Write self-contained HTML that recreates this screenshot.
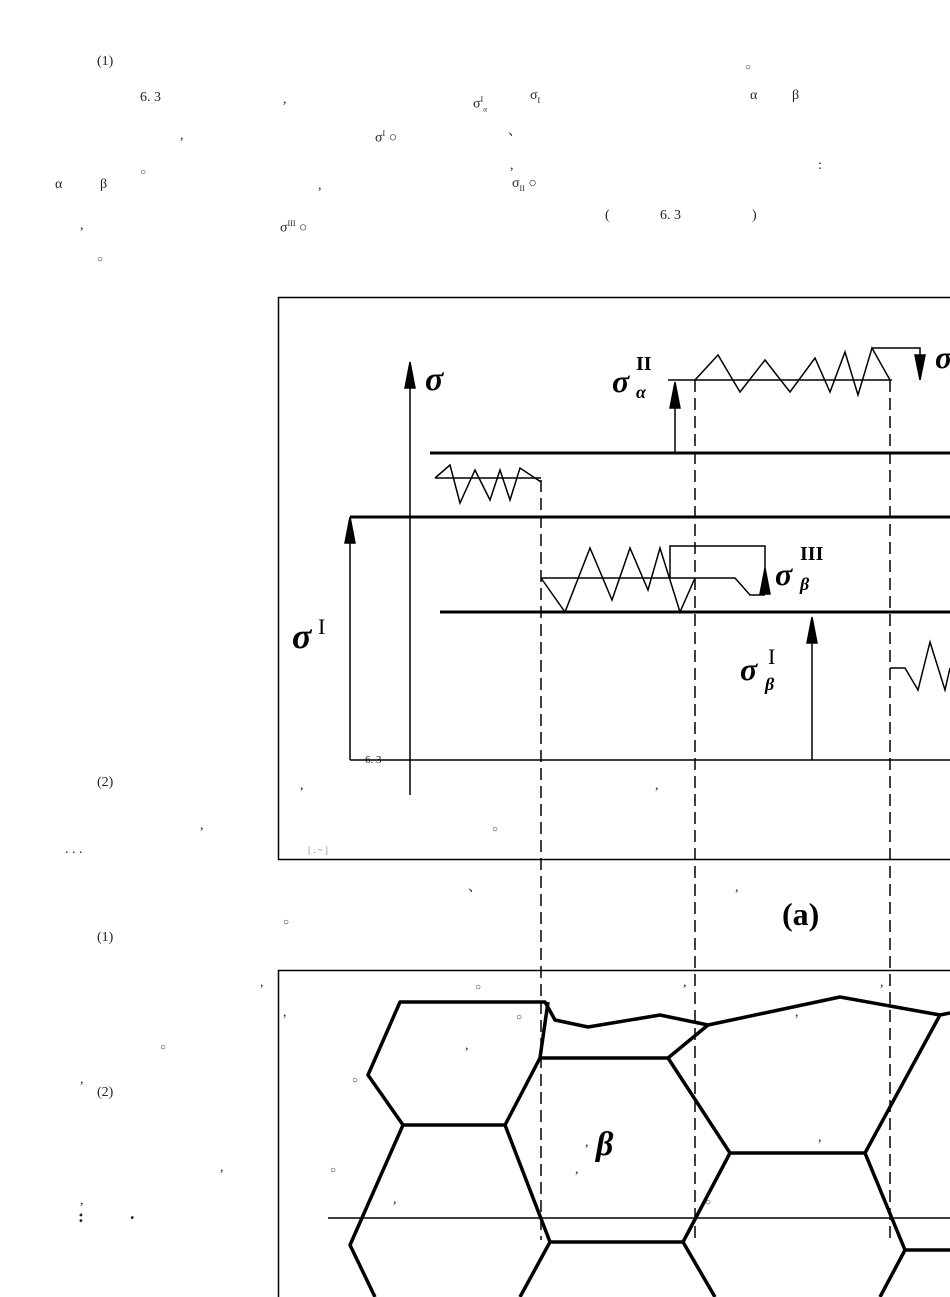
<!DOCTYPE html>
<html><head><meta charset="utf-8"><style>
html,body{margin:0;padding:0;background:#fff;width:950px;height:1297px;overflow:hidden;}
body{position:relative;font-family:"Liberation Serif","Noto Serif CJK SC",serif;}
.t{position:absolute;font-size:14px;line-height:16px;color:#222;white-space:nowrap;}
svg{position:absolute;left:0;top:0;display:block;}
</style></head><body>
<div class="t" style="left:97px;top:54px">(1)</div>
<div class="t" style="left:745px;top:60px;font-size:10px">○</div>
<div class="t" style="left:140px;top:90px">6. 3</div>
<div class="t" style="left:283px;top:92px">,</div>
<div class="t" style="left:473px;top:92px">σ<sup style="font-size:8px">I</sup><sub style="font-size:7px">α</sub></div>
<div class="t" style="left:530px;top:88px">σ<sub style="font-size:8px">I</sub></div>
<div class="t" style="left:750px;top:88px">α</div>
<div class="t" style="left:792px;top:88px">β</div>
<div class="t" style="left:180px;top:128px">,</div>
<div class="t" style="left:375px;top:126px">σ<sup style="font-size:8px">I</sup> ○</div>
<div class="t" style="left:508px;top:124px">、</div>
<div class="t" style="left:510px;top:158px">,</div>
<div class="t" style="left:818px;top:158px">:</div>
<div class="t" style="left:140px;top:165px;font-size:10px">○</div>
<div class="t" style="left:55px;top:177px">α</div>
<div class="t" style="left:100px;top:177px">β</div>
<div class="t" style="left:318px;top:178px">,</div>
<div class="t" style="left:512px;top:176px">σ<sub style="font-size:8px">II</sub> ○</div>
<div class="t" style="left:605px;top:208px">(</div>
<div class="t" style="left:660px;top:208px">6. 3</div>
<div class="t" style="left:752px;top:208px">)</div>
<div class="t" style="left:80px;top:218px">,</div>
<div class="t" style="left:280px;top:216px">σ<sup style="font-size:8px">III</sup> ○</div>
<div class="t" style="left:97px;top:252px;font-size:10px">○</div>
<div class="t" style="left:97px;top:775px">(2)</div>
<div class="t" style="left:365px;top:752px;font-size:11px">6. 3</div>
<div class="t" style="left:300px;top:778px">,</div>
<div class="t" style="left:655px;top:778px">,</div>
<div class="t" style="left:200px;top:818px">,</div>
<div class="t" style="left:492px;top:822px;font-size:10px">○</div>
<div class="t" style="left:65px;top:842px">. . .</div>
<div class="t" style="left:308px;top:842px;font-size:9px;color:#888">[ . ~ ]</div>
<div class="t" style="left:468px;top:880px">、</div>
<div class="t" style="left:735px;top:880px">,</div>
<div class="t" style="left:283px;top:915px;font-size:10px">○</div>
<div class="t" style="left:97px;top:930px">(1)</div>
<div class="t" style="left:260px;top:975px">,</div>
<div class="t" style="left:475px;top:980px;font-size:10px">○</div>
<div class="t" style="left:683px;top:975px">,</div>
<div class="t" style="left:880px;top:975px">,</div>
<div class="t" style="left:283px;top:1005px">,</div>
<div class="t" style="left:516px;top:1010px;font-size:10px">○</div>
<div class="t" style="left:795px;top:1005px">,</div>
<div class="t" style="left:160px;top:1040px;font-size:10px">○</div>
<div class="t" style="left:465px;top:1038px">,</div>
<div class="t" style="left:352px;top:1073px;font-size:10px">○</div>
<div class="t" style="left:80px;top:1072px">,</div>
<div class="t" style="left:97px;top:1085px">(2)</div>
<div class="t" style="left:585px;top:1135px">,</div>
<div class="t" style="left:818px;top:1130px">,</div>
<div class="t" style="left:220px;top:1160px">,</div>
<div class="t" style="left:330px;top:1163px;font-size:10px">○</div>
<div class="t" style="left:575px;top:1162px">,</div>
<div class="t" style="left:80px;top:1193px">,</div>
<div class="t" style="left:393px;top:1192px">,</div>
<div class="t" style="left:705px;top:1195px;font-size:10px">○</div>
<div class="t" style="left:78px;top:1208px;font-size:18px;font-weight:bold">:</div>
<div class="t" style="left:130px;top:1205px;font-size:18px;font-weight:bold">.</div>
<svg width="950" height="1297" viewBox="0 0 950 1297">
<g fill="none" stroke="#000">
<path d="M950,297.5 H278.5 V859.5 H950" stroke-width="1.5"/>
<path d="M950,970.5 H278.5 V1297" stroke-width="1.5"/>
<g stroke-width="3">
<line x1="430" y1="453" x2="950" y2="453"/>
<line x1="350" y1="517" x2="950" y2="517"/>
<line x1="440" y1="612" x2="950" y2="612"/>
</g>
<g stroke-width="1.5">
<line x1="350" y1="760" x2="950" y2="760"/>
<line x1="410" y1="795" x2="410" y2="385"/><path d="M405,388 L410,362 L415,388Z" fill="#000"/>
<line x1="350" y1="760" x2="350" y2="540"/><path d="M345,543 L350,517 L355,543Z" fill="#000"/>
<line x1="675" y1="453" x2="675" y2="405"/><path d="M670,408 L675,382 L680,408Z" fill="#000"/>
<line x1="812" y1="760" x2="812" y2="640"/><path d="M807,643 L812,617 L817,643Z" fill="#000"/>
<line x1="668" y1="380" x2="892" y2="380"/>
<polyline points="695,380 718,355 740,392 765,360 790,392 815,358 830,392 845,352 858,395 872,348 890,380"/>
<polyline points="872,348 920,348 920,370"/><path d="M915,355 L920,380 L925,355Z" fill="#000"/>
<line x1="435" y1="478" x2="541" y2="478"/>
<polyline points="435,478 450,465 460,503 475,470 490,500 500,470 510,500 520,468 541,482"/>
<line x1="541" y1="578" x2="695" y2="578"/>
<polyline points="541,578 565,612 590,548 612,600 630,548 648,590 660,548 680,612 695,578"/>
<polyline points="670,578 670,546 765,546 765,570"/>
<polyline points="695,578 735,578 750,595 765,595"/>
<path d="M760,594 L765,568 L770,594Z" fill="#000"/>
<polyline points="890,668 905,668 918,690 930,642 945,690 950,668"/>
<line x1="328" y1="1218" x2="950" y2="1218"/>
</g>
<g stroke-width="1.5" stroke-dasharray="12,6">
<line x1="541" y1="480" x2="541" y2="1240"/>
<line x1="695" y1="380" x2="695" y2="1240"/>
<line x1="890" y1="380" x2="890" y2="1240"/>
</g>
<g stroke-width="3.5" stroke-linejoin="round">
<polyline points="403,1125 368,1075 400,1002 545,1002 555,1020 588,1027 660,1015 708,1025 840,997 940,1015 950,1013"/>
<polyline points="548,1002 540,1058 668,1058 708,1025"/>
<polyline points="403,1125 505,1125 540,1058"/>
<polyline points="668,1058 730,1153 865,1153 940,1015"/>
<polyline points="505,1125 550,1242 683,1242 730,1153"/>
<polyline points="403,1125 350,1245 375,1297"/>
<line x1="550" y1="1242" x2="520" y2="1297"/>
<line x1="683" y1="1242" x2="715" y2="1297"/>
<polyline points="865,1153 905,1250 950,1250"/>
<line x1="905" y1="1250" x2="880" y2="1297"/>
</g>
</g>
<g font-family="Liberation Serif, serif" font-weight="bold" fill="#000">
<text x="425" y="390" font-size="34" font-style="italic">σ</text>
<text x="612" y="392" font-size="32" font-style="italic">σ</text>
<text x="636" y="370" font-size="20">II</text>
<text x="636" y="398" font-size="18" font-style="italic">α</text>
<text x="935" y="368" font-size="32" font-style="italic">σ</text>
<text x="775" y="585" font-size="32" font-style="italic">σ</text>
<text x="800" y="560" font-size="20">III</text>
<text x="800" y="590" font-size="18" font-style="italic">β</text>
<text x="292" y="648" font-size="36" font-style="italic">σ</text>
<text x="318" y="634" font-size="22" font-weight="normal">I</text>
<text x="740" y="680" font-size="32" font-style="italic">σ</text>
<text x="768" y="664" font-size="22" font-weight="normal">I</text>
<text x="765" y="690" font-size="18" font-style="italic">β</text>
<text x="782" y="925" font-size="32">(a)</text>
<text x="596" y="1155" font-size="34" font-style="italic">β</text>
</g>
</svg>
</body></html>
